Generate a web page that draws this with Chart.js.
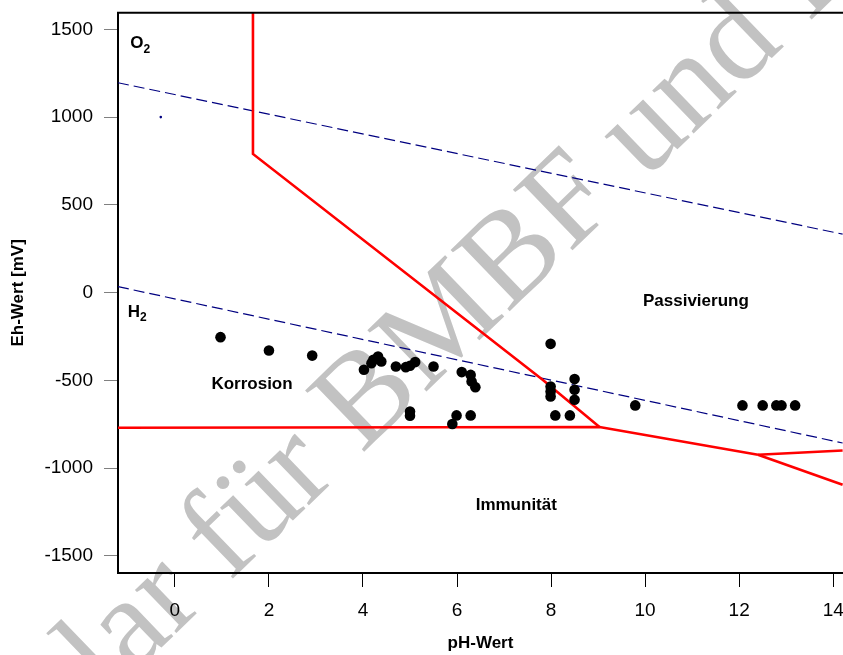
<!DOCTYPE html>
<html>
<head>
<meta charset="utf-8">
<script src="https://cdn.jsdelivr.net/npm/chart.js@4.4.1/dist/chart.umd.min.js"></script>
<style>
  html, body { margin: 0; padding: 0; background: #fff; overflow: hidden; }
  #wrap { width: 843px; height: 655px; overflow: hidden; }
</style>
</head>
<body>
<div id="wrap"><canvas id="chart" width="875" height="655"></canvas></div>
<script>
// Messpunkte (pH, Eh in mV)
const samplePH = [0.97, 2.0, 2.92, 4.02, 4.22, 4.32, 4.39, 4.18, 4.7, 4.91, 5.0, 5.11, 5.5,
  6.1, 6.29, 6.31, 6.39, 5.0, 5.0, 5.99, 6.29, 5.9, 7.99, 7.99, 7.99, 7.99, 8.5, 8.5, 8.5,
  8.09, 8.4, 9.79, 12.07, 12.5, 12.79, 12.9, 13.19];
const sampleEh = [-254, -330, -359, -440, -383, -364, -393, -402, -421, -425, -417, -396, -421,
  -453, -469, -507, -539, -678, -702, -700, -700, -749, -292, -535, -564, -592, -493, -554, -611,
  -700, -700, -643, -643, -643, -643, -643, -643];

// Stabilitaetsgrenzen (rot)
const passivPH = [1.66, 1.66, 7.82, 9.03];
const passivEh = [1595, 790, -497, -766];
const immunPH = [-1.21, 9.03, 12.4];
const immunEh = [-770, -766, -924];
const upperPH = [12.4, 14.2];
const upperEh = [-924, -900];
const lowerPH = [12.4, 14.2];
const lowerEh = [-924, -1095];

// Wasserstabilitaet (gestrichelt)
const o2PH = [-1.21, 14.2];
const o2Eh = [1196, 333];
const h2PH = [-1.21, 14.2];
const h2Eh = [34, -857];

const markerPH = [-0.3];
const markerEh = [1000];

const xTicks = [0, 2, 4, 6, 8, 10, 12, 14];
const yTicks = [-1500, -1000, -500, 0, 500, 1000, 1500];

const regionLabels = [
  { text: "O", sub: "2", x: -0.74, y: 1419 },
  { text: "H", sub: "2", x: -0.8, y: -110 },
  { text: "Korrosion", x: 1.64, y: -520 },
  { text: "Passivierung", x: 11.08, y: -47 },
  { text: "Immunität", x: 7.26, y: -1215 }
];

const xTitle = "pH-Wert";
const watermark = "Exemplar für BMBF und I";

function toXY(xs, ys) {
  return xs.map((x, i) => ({ x: x, y: ys[i] }));
}

function lineSet(xs, ys, color, width, dash) {
  return {
    data: toXY(xs, ys),
    showLine: true,
    borderColor: color,
    borderWidth: width,
    borderDash: dash || [],
    pointRadius: 0,
    fill: false,
    tension: 0
  };
}

const FONT = "'Liberation Sans', Arial, sans-serif";
const VISIBLE_WIDTH = 843;

const decorPlugin = {
  id: "decor",
  beforeDraw(chart) {
    const ctx = chart.ctx;
    ctx.save();
    ctx.font = "130px 'Liberation Serif', 'Times New Roman', serif";
    ctx.fillStyle = "#c2c2c2";
    ctx.translate(107, 700);
    ctx.rotate(-44 * Math.PI / 180);
    const pre = ctx.measureText("Exemp").width;
    ctx.fillText(watermark, -pre, 0);
    ctx.restore();
  },
  afterDraw(chart) {
    const ctx = chart.ctx;
    const area = chart.chartArea;
    const xs = chart.scales.x, ys = chart.scales.y;
    ctx.save();
    ctx.strokeStyle = "#000";
    ctx.lineWidth = 2;
    ctx.beginPath();
    ctx.moveTo(area.left - 1, area.top);
    ctx.lineTo(area.right, area.top);
    ctx.stroke();

    // x-Achsentitel mittig unter dem sichtbaren Plotbereich
    ctx.fillStyle = "#000";
    ctx.textAlign = "center";
    ctx.textBaseline = "middle";
    ctx.font = "bold 17px " + FONT;
    ctx.fillText(xTitle, (area.left + VISIBLE_WIDTH) / 2, chart.height - 12);

    ctx.textAlign = "left";
    regionLabels.forEach(l => {
      const px = xs.getPixelForValue(l.x);
      const py = ys.getPixelForValue(l.y);
      ctx.font = "bold 17px " + FONT;
      const w1 = ctx.measureText(l.text).width;
      let w2 = 0;
      if (l.sub) {
        ctx.font = "bold 12px " + FONT;
        w2 = ctx.measureText(l.sub).width;
      }
      const start = px - (w1 + w2) / 2;
      ctx.font = "bold 17px " + FONT;
      ctx.fillText(l.text, start, py);
      if (l.sub) {
        ctx.font = "bold 12px " + FONT;
        ctx.fillText(l.sub, start + w1, py + 6);
      }
    });
    ctx.restore();
  }
};

new Chart(document.getElementById("chart"), {
  type: "scatter",
  data: {
    datasets: [
      {
        data: toXY(samplePH, sampleEh),
        pointRadius: 5.3,
        pointBackgroundColor: "#000",
        pointBorderWidth: 0,
        showLine: false
      },
      lineSet(passivPH, passivEh, "#ff0000", 2.6),
      lineSet(immunPH, immunEh, "#ff0000", 2.6),
      lineSet(upperPH, upperEh, "#ff0000", 2.6),
      lineSet(lowerPH, lowerEh, "#ff0000", 2.6),
      lineSet(o2PH, o2Eh, "#000080", 1.2, [11, 5]),
      lineSet(h2PH, h2Eh, "#000080", 1.2, [11, 5]),
      {
        data: toXY(markerPH, markerEh),
        pointRadius: 1.3,
        pointBackgroundColor: "#000080",
        pointBorderWidth: 0,
        showLine: false
      }
    ]
  },
  options: {
    responsive: false,
    animation: false,
    events: [],
    layout: { padding: { top: 12.7, right: 0, left: 0, bottom: 0 } },
    plugins: {
      legend: { display: false },
      tooltip: { enabled: false }
    },
    scales: {
      x: {
        type: "linear",
        min: -1.21,
        max: 14.776,
        afterBuildTicks: s => { s.ticks = xTicks.map(v => ({ value: v })); },
        afterFit: s => { s.height = 82; s.paddingLeft = 0; s.paddingRight = 0; },
        ticks: { color: "#000", font: { family: FONT, size: 19 }, padding: 12, maxRotation: 0, autoSkip: false },
        grid: { drawOnChartArea: false, drawTicks: true, tickLength: 14, tickColor: "#000", tickWidth: 1 },
        border: { display: true, color: "#000", width: 2 },
        title: { display: false }
      },
      y: {
        type: "linear",
        min: -1598,
        max: 1595,
        afterBuildTicks: s => { s.ticks = yTicks.map(v => ({ value: v })); },
        afterFit: s => { s.width = 118; s.paddingTop = 0; s.paddingBottom = 0; },
        ticks: { color: "#000", font: { family: FONT, size: 19 }, padding: 11, callback: v => String(v) },
        grid: { drawOnChartArea: false, drawTicks: true, tickLength: 14, tickColor: "#808080", tickWidth: 1 },
        border: { display: true, color: "#000", width: 2 },
        title: {
          display: true, text: "Eh-Wert [mV]", color: "#000",
          font: { family: FONT, size: 17, weight: "bold" },
          padding: { top: 8, bottom: 0 }
        }
      }
    }
  },
  plugins: [decorPlugin]
});
</script>
</body>
</html>
